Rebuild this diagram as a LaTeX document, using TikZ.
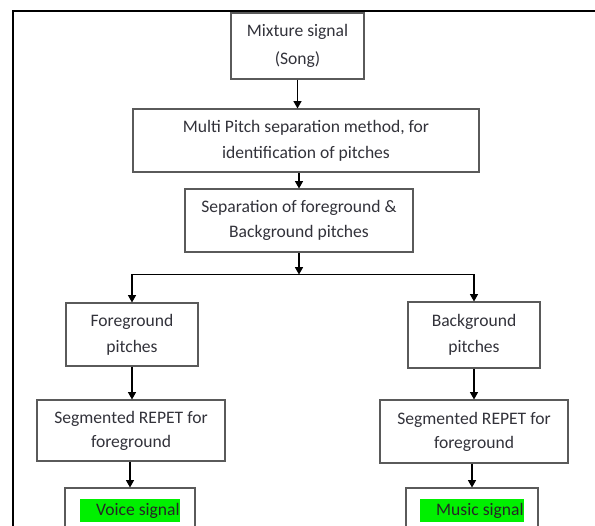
\documentclass[tikz,border=0pt]{standalone}
\usepackage{fontspec}
\setmainfont{Carlito}
\usetikzlibrary{arrows.meta,positioning,calc}
\definecolor{hl}{RGB}{0,240,0}
\definecolor{boxline}{RGB}{90,90,90}
\definecolor{txt}{RGB}{50,50,58}
\newcommand{\hltext}[1]{\setlength{\fboxsep}{0pt}\colorbox{hl}{\rule[-5pt]{0pt}{19.5pt}\hspace{13.5pt}\textcolor{black!85}{#1}}}

\begin{document}
\begin{tikzpicture}[x=0.03cm, y=-0.03cm,
  box/.style={draw=boxline, line width=0.9pt, align=center, inner sep=0pt, text=txt, font=\fontsize{15}{22}\selectfont},
  arr/.style={-{Triangle[length=2.2mm,width=2.4mm]}, line width=0.9pt},
  frm/.style={line width=1.8pt}
]
  \useasboundingbox (0,0) rectangle (595,525);
  \clip (0,0) rectangle (595,525);
  \draw[frm] (13,530) |- (600,11);

  \node[box, minimum width=3.99cm, minimum height=1.98cm, font=\fontsize{15}{24}\selectfont] (mix) at (297.5,46) {Mixture signal\\(Song)};
  \node[box, minimum width=10.38cm, minimum height=1.89cm] (multi) at (306,140.5) {Multi Pitch separation method, for\\identification of pitches};
  \node[box, minimum width=6.84cm, minimum height=1.89cm] (sep) at (299,220.5) {Separation of foreground \&\\Background pitches};
  \node[box, minimum width=3.96cm, minimum height=1.89cm] (fg) at (132,334.5) {Foreground\\pitches};
  \node[box, minimum width=3.96cm, minimum height=1.98cm] (bg) at (474,335) {Background\\pitches};
  \node[box, minimum width=5.64cm, minimum height=1.83cm, font=\fontsize{15}{20.5}\selectfont] (segfg) at (131,430.5) {Segmented REPET for\\foreground};
  \node[box, minimum width=5.64cm, minimum height=1.89cm, font=\fontsize{15}{20.5}\selectfont] (segbg) at (474,431.5) {Segmented REPET for\\foreground};
  \node[box, minimum width=3.9cm, minimum height=1.5cm] (voice) at (130,513) {\raisebox{10pt}{\hltext{Voice signal}}};
  \node[box, minimum width=3.96cm, minimum height=1.5cm] (music) at (472,513) {\raisebox{10pt}{\hltext{Music signal}}};

  \coordinate (split) at ($(sep.south)+(0,22)$);
  \draw[arr] (mix) -- (mix.south |- multi.north);
  \draw[arr] (multi.south -| sep) -- (sep);
  \draw[arr] (sep) -- (split);
  \draw[arr] (split) -| (fg);
  \draw[arr] (split) -| (bg);
  \draw[arr] (fg) -- (fg |- segfg.north);
  \draw[arr] (bg) -- (bg |- segbg.north);
  \draw[arr] (segfg.south -| voice) -- (voice);
  \draw[arr] (segbg.south -| music) -- (music);
\end{tikzpicture}
\end{document}
